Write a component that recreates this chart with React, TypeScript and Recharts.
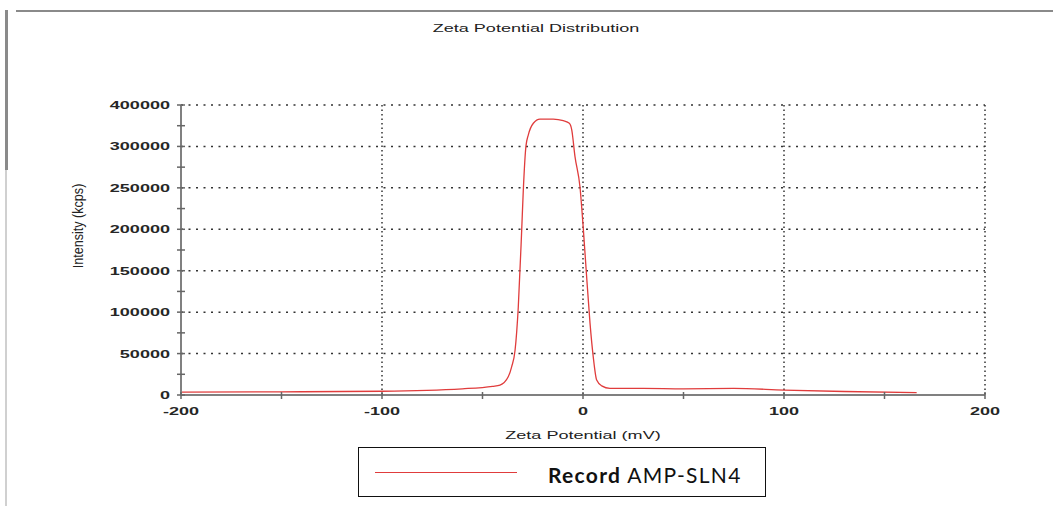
import React from "react";
import {
  LineChart,
  Line,
  XAxis,
  YAxis,
  CartesianGrid,
  Legend,
  Label,
} from "recharts";

const zeta = [
  -200, -150, -100, -60, -45, -41.3, -37.2, -35.5, -33.8, -32.2, -30.5, -29.7,
  -28.4, -27.2, -24.7, -21.4, -14.8, -9.8, -6.8, -5.6, -4, -1.5, 0.2, 1.8, 3.5,
  5.1, 6.8, 9.3, 13.4, 30, 50, 75, 100, 130, 166,
];
const intensity = [
  3500, 3800, 4500, 7500, 10500, 12000, 22000, 34000, 54000, 106000, 199000,
  247000, 300000, 314000, 328000, 333000, 333000, 331000, 328000, 320000,
  288000, 251000, 199000, 143000, 86500, 46000, 18000, 11000, 8000, 8000, 7500,
  8000, 6000, 4200, 2800,
];

const xMajor = [-200, -100, 0, 100, 200];
const xMinor = [-150, -50, 50, 150];
const yMajor = [0, 50000, 100000, 150000, 200000, 250000, 300000, 350000];
const yMajorLabels = ["0", "50000", "100000", "150000", "200000", "250000", "300000", "400000"];
const yMinor = [25000, 75000, 125000, 175000, 225000, 275000, 325000];

const data = zeta.map((z, i) => ({ zeta: z, intensity: intensity[i] }));
const xTicks = [...xMajor, ...xMinor].sort((a, b) => a - b);
const yTicks = [...yMajor, ...yMinor].sort((a, b) => a - b);

const FONT = "'Liberation Sans', Arial, sans-serif";
const FS = 11;
const SX = 1.64; // the source image is stretched sideways

const XTick = (props: any) => {
  const { x, y, payload } = props;
  const major = xMajor.includes(payload.value);
  return (
    <g>
      <line x1={x} x2={x} y1={y - 3} y2={y + 4} stroke="#666" strokeWidth={1.5} />
      {major && (
        <text
          transform={`translate(${x},${y + 20}) scale(${SX},1)`}
          textAnchor="middle"
          fontFamily={FONT}
          fontWeight="bold"
          fontSize={FS}
          fill="#262626"
        >
          {payload.value}
        </text>
      )}
    </g>
  );
};

const YTick = (props: any) => {
  const { x, y, payload } = props;
  const idx = yMajor.indexOf(payload.value);
  return (
    <g>
      <line x1={x - 4} x2={x + 4} y1={y} y2={y} stroke="#666" strokeWidth={1.5} />
      {idx >= 0 && (
        <text
          transform={`translate(${x - 11},${y + 4}) scale(${SX},1)`}
          textAnchor="end"
          fontFamily={FONT}
          fontWeight="bold"
          fontSize={FS}
          fill="#262626"
        >
          {yMajorLabels[idx]}
        </text>
      )}
    </g>
  );
};

const LegendBox = () => (
  <div
    style={{
      width: 406,
      height: 48,
      border: "1.5px solid #111",
      background: "#fff",
      position: "relative",
      fontFamily: "Lato, 'Open Sans', sans-serif",
      fontSize: 21,
      letterSpacing: 1.3,
      color: "#111",
    }}
  >
    <div
      style={{
        position: "absolute",
        left: 16,
        top: 24,
        width: 142,
        borderTop: "1.5px solid #e03c3c",
      }}
    />
    <div style={{ position: "absolute", left: 189, top: 14, whiteSpace: "nowrap" }}>
      <b>Record</b> AMP-SLN4
    </div>
  </div>
);

export default function App() {
  return (
    <div
      style={{
        position: "absolute",
        left: 0,
        top: 0,
        width: 1053,
        height: 506,
        background: "#fff",
        overflow: "hidden",
      }}
    >
      {/* frame remnants from the original screenshot */}
      <div style={{ position: "absolute", left: 16, top: 10, width: 1037, height: 2, background: "#8a8a8a" }} />
      <div style={{ position: "absolute", left: 5, top: 10, width: 3, height: 160, background: "#8a8a8a" }} />
      <div style={{ position: "absolute", left: 5, top: 170, width: 2, height: 336, background: "#d0d0d0" }} />
      <div
        style={{
          position: "absolute",
          left: 0,
          width: 1072,
          top: 22,
          textAlign: "center",
          fontFamily: FONT,
          fontSize: FS,
          color: "#222",
          transform: `scaleX(${SX})`,
          transformOrigin: "536px 0",
        }}
      >
        Zeta Potential Distribution
      </div>
      <LineChart
        width={1053}
        height={506}
        data={data}
        margin={{ top: 105, right: 68, bottom: 0, left: 0 }}
        style={{ position: "absolute", left: 0, top: 0 }}
      >
        <CartesianGrid
          vertical={false}
          horizontalValues={yMajor.slice(1)}
          stroke="#333"
          strokeWidth={1.5}
          strokeDasharray="2 5.5"
        />
        <CartesianGrid
          horizontal={false}
          verticalValues={xMajor.slice(1)}
          stroke="#333"
          strokeWidth={1.5}
          strokeDasharray="1.5 3"
        />
        <XAxis
          type="number"
          dataKey="zeta"
          domain={[-200, 200]}
          ticks={xTicks}
          interval={0}
          tickSize={0}
          tickMargin={0}
          tick={<XTick />}
          height={111}
          axisLine={{ stroke: "#808080", strokeWidth: 2 }}
          tickLine={false}
        >
          <Label
            content={() => (
              <text
                transform={`translate(583,439) scale(${SX},1)`}
                textAnchor="middle"
                fontFamily={FONT}
                fontSize={FS}
                fill="#222"
              >
                Zeta Potential (mV)
              </text>
            )}
          />
        </XAxis>
        <YAxis
          type="number"
          domain={[0, 350000]}
          ticks={yTicks}
          interval={0}
          tickSize={0}
          tickMargin={0}
          tick={<YTick />}
          width={181}
          axisLine={{ stroke: "#808080", strokeWidth: 2 }}
          tickLine={false}
        >
          <Label
            content={() => (
              <text
                transform="translate(83,226) rotate(-90) scale(1.2,1.35)"
                textAnchor="middle"
                fontFamily={FONT}
                fontSize={10.5}
                fill="#222"
              >
                Intensity (kcps)
              </text>
            )}
          />
        </YAxis>
        <Legend
          layout="horizontal"
          verticalAlign="middle"
          align="center"
          content={() => <LegendBox />}
          wrapperStyle={{ left: 358, top: 447, width: 409, height: 51 }}
        />
        <Line
          type="monotone"
          dataKey="intensity"
          name="Record AMP-SLN4"
          stroke="#e03c3c"
          strokeWidth={1.3}
          dot={false}
          isAnimationActive={false}
        />
      </LineChart>
    </div>
  );
}
